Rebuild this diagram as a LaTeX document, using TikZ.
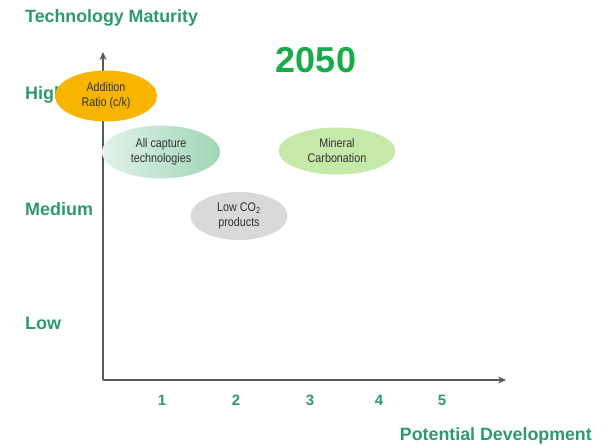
\documentclass[tikz,border=0pt]{standalone}
\usepackage{fontspec}
\setmainfont{Liberation Sans}
\newfontfamily\narrowfont{Liberation Sans}[FakeStretch=0.86]
\usetikzlibrary{arrows.meta,shapes.geometric}
\definecolor{axisgreen}{HTML}{2E9A6C}
\definecolor{yeargreen}{HTML}{1BAA4A}
\definecolor{axisgray}{HTML}{5A5A5A}
\definecolor{orangefill}{HTML}{F7B500}
\definecolor{capturegreen}{HTML}{9FD5B8}
\definecolor{capturelight}{HTML}{E2F3EA}
\definecolor{mineralgreen}{HTML}{C6E9A9}
\definecolor{lowgray}{HTML}{D9D9D9}
\definecolor{inktext}{HTML}{333333}
\begin{document}
\begin{tikzpicture}[x=1pt,y=1pt,
  axislabel/.style={text=axisgreen,font=\fontsize{18}{20}\selectfont\bfseries,inner sep=0pt},
  ticklabel/.style={text=axisgreen,font=\fontsize{15}{17}\selectfont\bfseries,inner sep=0pt},
  axisline/.style={draw=axisgray,line width=1.8pt,-{Stealth[length=8pt,width=7pt]}},
  bubble/.style={ellipse,inner sep=0pt,align=center,text=inktext,
    font=\narrowfont\fontsize{12.5}{15}\selectfont},
]
\useasboundingbox (0,0) rectangle (609,446);
\fill[white] (0,0) rectangle (609,446);
% titles
\node[axislabel,anchor=west,font=\fontsize{17.8}{20}\selectfont\bfseries] (ttl) at (25,428) {Technology Maturity};
\node[text=yeargreen,font=\fontsize{36}{40}\selectfont\bfseries,inner sep=0pt] (year) at (316,386) {2050};
\node[axislabel,anchor=east,font=\fontsize{17.8}{20}\selectfont\bfseries] (xttl) at (592,10) {Potential Development};
% level labels
\node[axislabel,anchor=west] (high) at (25,351) {High};
\node[axislabel,anchor=west] (med) at (25,237) {Medium};
\node[axislabel,anchor=west] (low) at (25,123) {Low};
% ticks
\node[ticklabel] (t1) at (162,46) {1};
\node[ticklabel] (t2) at (236,46) {2};
\node[ticklabel] (t3) at (310,46) {3};
\node[ticklabel] (t4) at (379,46) {4};
\node[ticklabel] (t5) at (442,46) {5};
% axes
\coordinate (o) at (103,66);
\coordinate (ytop) at (103,394);
\coordinate (xend) at (506,66);
\draw[axisline] (o) -- (ytop);
\draw[axisline] (o) -- (xend);
% bubbles
\node[bubble,fill=orangefill,minimum width=102pt,minimum height=51pt,text=black!80] (add) at (106,350) {Addition\\Ratio (c/k)};
\node[bubble,minimum width=118pt,minimum height=53pt,
  left color=capturelight,right color=capturegreen] (cap) at (161,294) {All capture\\technologies};
\node[bubble,fill=mineralgreen,minimum width=117pt,minimum height=47pt] (min) at (337,295) {Mineral\\Carbonation};
\node[bubble,fill=lowgray,minimum width=97pt,minimum height=48pt] (lowco) at (239,230) {Low CO\textsubscript{2}\\products};
\end{tikzpicture}
\end{document}
